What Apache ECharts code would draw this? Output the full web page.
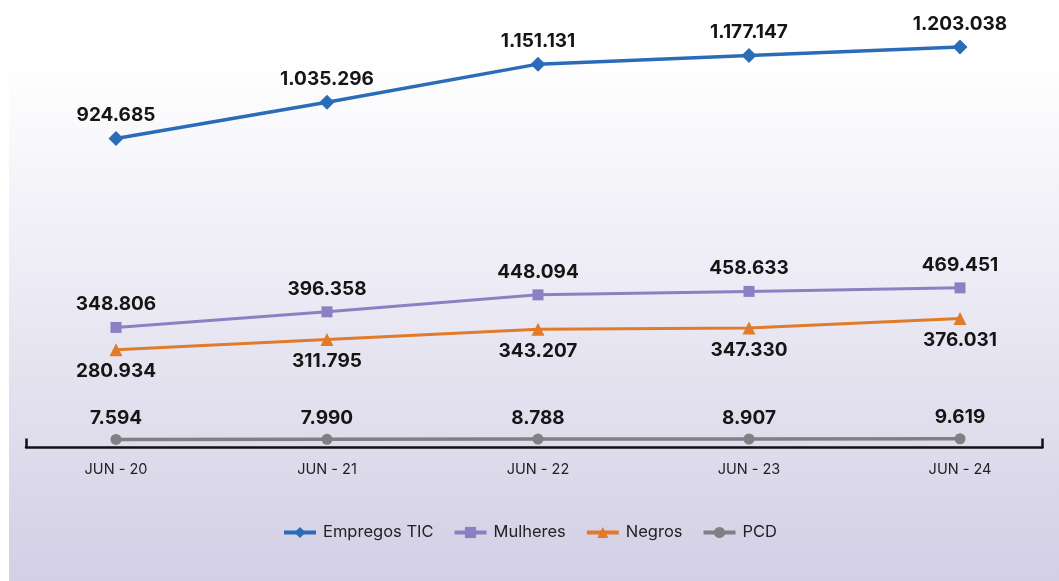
<!DOCTYPE html>
<html>
<head>
<meta charset="utf-8">
<script src="https://cdn.jsdelivr.net/npm/echarts@6/dist/echarts.min.js"></script>
<style>
html,body{margin:0;padding:0;background:#ffffff;}
#chart{width:1059px;height:581px;}
</style>
</head>
<body>
<div id="chart"></div>
<script>
const categories = ['JUN - 20', 'JUN - 21', 'JUN - 22', 'JUN - 23', 'JUN - 24'];
const seriesNames = ['Empregos TIC', 'Mulheres', 'Negros', 'PCD'];
const empregosTIC = [924685, 1035296, 1151131, 1177147, 1203038];
const mulheres = [348806, 396358, 448094, 458633, 469451];
const negros = [280934, 311795, 343207, 347330, 376031];
const pcd = [7594, 7990, 8788, 8907, 9619];

const fmt = v => String(v).replace(/\B(?=(\d{3})+(?!\d))/g, '.');
const labelFont = {fontFamily: 'Inter', fontWeight: 'bold', fontSize: 19, color: '#151515', formatter: p => fmt(p.value)};

function mk(name, data, color, symbol, size, width, pos, dist) {
  return {
    name, type: 'line', data, xAxisIndex: 0, yAxisIndex: 0,
    symbol, symbolSize: size,
    lineStyle: {color, width},
    itemStyle: {color},
    label: Object.assign({show: true, position: pos, distance: dist}, labelFont),
    z: 3
  };
}

const chart = echarts.init(document.getElementById('chart'), null, {renderer: 'canvas'});
chart.setOption({
  animation: false,
  backgroundColor: '#ffffff',
  graphic: [{
    type: 'rect', left: 9, top: 0, z: -10,
    shape: {width: 1050, height: 581},
    style: {fill: new echarts.graphic.LinearGradient(0, 0, 0, 1, [
      {offset: 0, color: '#ffffff'},
      {offset: 0.12, color: '#fefefe'},
      {offset: 0.5, color: '#eceaf4'},
      {offset: 1, color: '#d3cfe5'}
    ])}
  }],
  grid: [
    {left: 116, right: 99, top: 12, bottom: 133.5},
    {left: 26, right: 16.5, top: 12, bottom: 133.5}
  ],
  xAxis: [
    {type: 'category', gridIndex: 0, data: categories, boundaryGap: false,
     axisLine: {show: false}, axisTick: {show: false},
     axisLabel: {fontFamily: 'Inter', fontSize: 14.5, color: '#222', margin: 15}},
    {type: 'value', gridIndex: 1, min: 0, max: 1, interval: 1,
     axisLine: {show: true, lineStyle: {color: '#111', width: 2.5}},
     axisTick: {show: true, inside: true, length: 9, lineStyle: {color: '#111', width: 2.5}},
     axisLabel: {show: false}, splitLine: {show: false}}
  ],
  yAxis: [
    {type: 'value', gridIndex: 0, min: -17000, max: 1310000, show: false, splitLine: {show: false}},
    {type: 'value', gridIndex: 1, min: 0, max: 1, show: false, splitLine: {show: false}}
  ],
  legend: {
    left: 'center', top: 519, itemWidth: 32, itemHeight: 14, itemGap: 19,
    lineStyle: {width: 4},
    textStyle: {fontFamily: 'Inter', fontSize: 16.5, color: '#222', padding: [0, 0, 0, 2]},
    data: seriesNames
  },
  series: [
    mk(seriesNames[0], empregosTIC, '#2b6cb8', 'diamond', 15, 3.5, 'top', 6),
    mk(seriesNames[1], mulheres, '#8c80c2', 'rect', 11, 3, 'top', 8),
    mk(seriesNames[2], negros, '#e07b2a', 'triangle', 13, 3, 'bottom', 6),
    mk(seriesNames[3], pcd, '#7f7f84', 'circle', 11, 3.5, 'top', 6)
  ]
});
</script>
</body>
</html>
